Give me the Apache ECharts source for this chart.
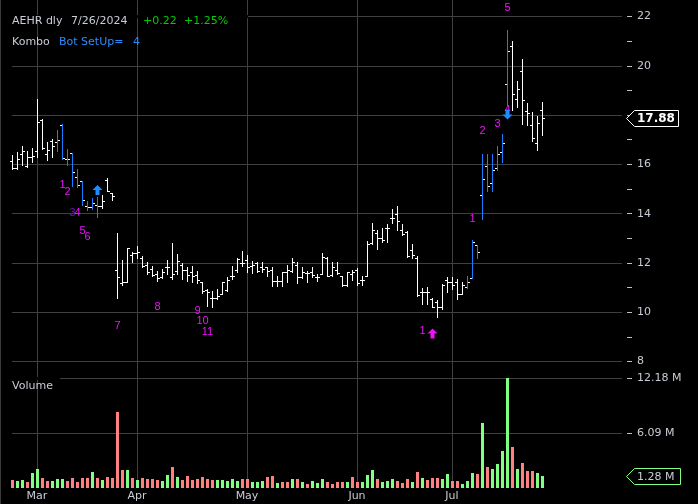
<!DOCTYPE html>
<html><head><meta charset="utf-8">
<script src="https://cdn.jsdelivr.net/npm/echarts@6/dist/echarts.min.js"></script>
<style>html,body{margin:0;padding:0;background:#000;}#c{width:698px;height:504px;}</style>
</head><body><div id="c"></div>
<script>
// ---------- DATA ----------
const febDays = [23,26,27,28,29];
const marDays = [1,4,5,6,7,8,11,12,13,14,15,18,19,20,21,22,25,26,27,28];
const aprDays = [1,2,3,4,5,8,9,10,11,12,15,16,17,18,19,22,23,24,25,26,29,30];
const mayDays = [1,2,3,6,7,8,9,10,13,14,15,16,17,20,21,22,23,24,28,29,30,31];
const junDays = [3,4,5,6,7,10,11,12,13,14,17,18,20,21,24,25,26,27,28];
const julDays = [1,2,3,5,8,9,10,11,12,15,16,17,18,19,22,23,24,25,26];

const opens = [16.10,15.84,16.42,15.90,16.28,16.54,17.77,16.40,16.92,16.89,
17.57,16.20,16.44,15.45,15.29,14.30,14.25,14.35,14.30,15.33,
14.80,11.68,11.15,11.20,12.30,12.38,12.20,11.90,11.75,11.55,
11.40,11.80,11.39,11.66,11.90,11.70,11.60,11.50,11.20,10.90,
10.55,10.55,10.72,10.90,11.45,11.70,11.96,12.10,11.86,11.99,
11.80,11.80,11.70,11.26,11.26,11.60,11.66,11.90,11.40,11.57,
11.60,11.40,11.53,12.20,11.50,11.70,11.45,11.10,11.55,11.70,
11.30,11.45,12.80,13.20,13.00,13.40,13.80,13.97,13.30,13.23,
12.50,12.20,10.80,10.80,10.52,10.40,10.19,11.30,11.20,11.20,
10.73,11.00,11.37,12.70,14.72,15.91,15.21,15.82,16.49,19.23,
20.78,18.62,19.77,18.14,17.58,16.86,18.18];
const highs = [16.34,16.47,16.74,16.51,16.65,18.65,17.82,16.89,17.01,17.39,
17.63,16.60,16.44,15.79,15.29,14.50,14.60,14.65,14.75,15.43,
14.80,13.19,12.10,12.60,12.42,12.65,12.27,12.00,11.86,11.66,
11.73,12.10,12.77,12.34,11.96,11.80,11.86,11.64,11.22,10.92,
10.85,10.92,11.22,11.39,11.86,12.18,12.47,12.30,12.07,12.00,
12.00,11.80,11.80,11.43,11.62,11.89,12.16,12.00,11.80,11.66,
11.80,11.53,12.40,12.24,12.00,12.00,11.46,11.60,11.70,11.78,
11.45,12.86,13.60,13.32,13.40,13.57,14.17,14.28,13.57,13.27,
12.76,12.26,10.97,11.00,10.57,10.49,11.14,11.40,11.40,11.34,
11.20,11.45,12.91,12.72,16.40,16.40,16.40,16.72,17.21,21.43,
20.99,19.36,20.25,18.45,18.09,17.94,18.50];
const lows = [15.80,15.80,15.97,15.88,16.07,16.28,16.60,16.15,16.27,16.51,
16.20,15.97,15.12,15.06,14.32,14.12,14.16,13.84,14.21,14.89,
14.55,10.54,11.10,11.19,12.00,12.16,11.80,11.55,11.43,11.26,
11.38,11.53,11.32,11.53,11.32,11.26,11.19,11.16,10.76,10.24,
10.18,10.50,10.72,10.85,11.32,11.60,11.86,11.60,11.57,11.60,
11.60,11.46,11.05,11.05,11.05,11.21,11.60,11.16,11.36,11.20,
11.39,11.26,11.53,11.43,11.46,11.53,11.05,11.05,11.27,11.10,
11.07,11.44,12.75,12.53,12.82,12.82,13.60,13.30,13.10,12.24,
12.20,10.62,10.32,10.32,10.19,9.78,10.10,10.80,10.94,10.53,
10.70,10.97,11.37,12.17,13.76,14.91,14.91,15.75,16.09,18.39,
18.18,18.32,17.62,17.58,16.94,16.56,17.17];
const closes = [15.83,16.18,16.51,16.28,16.32,17.69,16.65,16.55,16.72,16.95,
16.23,16.20,15.67,15.13,14.52,14.24,14.40,14.30,14.50,14.90,
14.70,11.39,11.20,12.58,12.38,12.42,11.86,11.60,11.49,11.35,
11.60,11.80,11.55,12.07,11.70,11.50,11.45,11.30,10.85,10.80,
10.56,10.62,11.19,11.30,11.45,12.14,11.97,11.82,11.90,11.64,
11.73,11.66,11.26,11.26,11.60,11.68,12.00,11.39,11.60,11.59,
11.50,11.40,12.24,11.43,11.80,11.59,11.10,11.60,11.60,11.16,
11.27,12.75,13.30,13.00,12.90,13.40,13.80,13.70,13.16,12.28,
12.30,10.66,10.80,10.80,10.20,10.20,11.10,11.20,11.10,10.73,
11.10,11.20,12.82,12.41,15.37,15.10,15.75,16.40,16.83,20.59,
18.82,19.02,18.59,18.08,17.03,17.66,17.88];
// volume in millions of shares
const volumes = [0.85,0.74,0.85,0.63,1.62,2.07,1.07,0.74,0.74,0.96,
0.96,0.74,1.07,0.63,1.07,1.07,1.73,1.07,0.85,1.18,
1.07,8.38,1.96,1.96,1.07,0.85,1.07,0.96,0.96,0.85,
0.74,1.40,2.29,1.18,0.85,1.29,0.85,0.96,1.18,0.96,
0.85,0.85,0.85,0.74,0.96,0.74,0.96,0.96,0.63,0.63,
0.74,1.18,1.29,0.52,0.63,0.63,0.96,0.96,0.63,0.41,
0.74,0.52,0.96,0.63,0.41,0.63,0.63,0.63,1.18,0.63,
0.63,1.40,1.96,0.96,0.63,0.74,0.96,0.74,0.52,0.96,
0.63,1.73,1.07,0.85,1.07,1.07,0.96,1.51,0.74,0.74,
0.41,0.74,1.62,1.51,7.16,2.29,2.07,2.62,4.06,12.18,
4.50,2.07,2.73,1.85,1.85,1.62,1.28];
// 1 = up day volume, 0 = down day volume
const volumeUp = [0,1,1,0,1,1,0,0,1,1,
1,0,0,0,0,0,1,0,1,0,
0,0,0,1,0,1,0,0,0,0,
1,1,0,1,0,0,0,0,0,0,
0,1,1,1,1,1,0,0,1,1,
1,0,0,1,0,0,1,0,1,0,
1,1,1,0,0,0,0,1,0,0,
1,1,1,0,1,1,1,0,0,0,
1,0,1,0,0,0,1,1,0,0,
1,1,1,0,1,0,1,1,1,1,
0,1,0,0,0,1,1];
// bars flagged by the setup study
const setupBars = [9,10,11,12,13,14,15,16,17,91,92,93,94,95,96,97,98,99];
// count labels: [bar index, price, text]
const countLabels = [
 [10,15.16,'1'],[11,14.88,'2'],[12,14.03,'3'],[13,14.03,'4'],[14,13.28,'5'],[15,13.05,'6'],
 [21,9.44,'7'],[29,10.21,'8'],[37,10.05,'9'],[38,9.64,'10'],[39,9.18,'11'],
 [82,9.24,'1'],
 [92,13.78,'1'],[94,17.34,'2'],[97,17.65,'3'],[98.7,18.2,'4'],[99,22.34,'5']
];
// arrows: [bar index, price, direction (1 up, -1 down)]
const setupArrows = [[17,14.96,1],[99,18.02,-1]];
const countArrows = [[84,9.14,1]];
const priceTicks = {min: 8, max: 24, step: 2};
const volumeTicks = {step: 6.09};
const monthNames = ['Jan','Feb','Mar','Apr','May','Jun','Jul','Aug','Sep','Oct','Nov','Dec'];

// ---------- BUILD ----------
const pad = n => (n < 10 ? '0' : '') + n;
const dates = [].concat(
  febDays.map(d => '2024-02-' + pad(d)), marDays.map(d => '2024-03-' + pad(d)),
  aprDays.map(d => '2024-04-' + pad(d)), mayDays.map(d => '2024-05-' + pad(d)),
  junDays.map(d => '2024-06-' + pad(d)), julDays.map(d => '2024-07-' + pad(d)));
const EXTRA = 16;
const cats = dates.concat(new Array(EXTRA).fill(''));
const monthOf = i => (dates[i] || '').slice(5, 7);
const isMonthStart = (idx) => idx > 0 && idx < dates.length && monthOf(idx) !== monthOf(idx - 1);

const BLUE = '#1a7cff', WHITE = '#ffffff', GRID = '#404040', TXT = '#c8ccd4';
const MAG = '#f010ff', GREEN = '#80ff80', RED = '#ff8080';
const FONT = '"DejaVu Sans", sans-serif';
const setupSet = new Set(setupBars);
const STEP = 5;
const left = 12, width = STEP * (cats.length - 1);
const pxPerUnit = 24.643, y22 = 16.5;
const priceTop = y22 - (priceTicks.max - 22) * pxPerUnit;
const priceH = (priceTicks.max - priceTicks.min) * pxPerUnit;
const volBottom = 487.8, volPx = 54.8;
const volTop = priceTop + priceH;
const volMax = volumeTicks.step * (volBottom - volTop) / volPx;
const volTickVals = [volumeTicks.step, volumeTicks.step * 2];

const ohlc = dates.map((d, i) => [i, opens[i], highs[i], lows[i], closes[i]]);
const vol = dates.map((d, i) => [i, volumes[i]]);

function arrowShape(cx, cy, dir) {
  // dir 1 = pointing up, -1 = pointing down
  const pts = [[0,-5],[5,0],[2,0],[2,5],[-2,5],[-2,0],[-5,0]];
  return pts.map(p => [cx + p[0], cy + p[1] * dir]);
}

const chart = echarts.init(document.getElementById('c'), null, {renderer: 'canvas'});
const option = {
  backgroundColor: '#000',
  animation: false,
  grid: [
    {left: left, width: width, top: priceTop, height: priceH, outerBoundsMode: 'none', containLabel: false},
    {left: left, width: width, top: volTop, height: volBottom - volTop, outerBoundsMode: 'none', containLabel: false}
  ],
  xAxis: [
    {gridIndex: 0, type: 'category', data: cats, boundaryGap: false,
     axisLine: {show: false}, axisTick: {show: false}, axisLabel: {show: false},
     splitLine: {show: true, interval: isMonthStart, lineStyle: {color: GRID, width: 1}}},
    {gridIndex: 1, type: 'category', data: cats, boundaryGap: false,
     axisLine: {show: false}, axisTick: {show: false},
     axisLabel: {show: true, interval: isMonthStart, color: TXT, fontSize: 11, fontFamily: FONT, margin: 3,
       formatter: (v) => v ? monthNames[parseInt(v.slice(5, 7), 10) - 1] : ''},
     splitLine: {show: true, interval: isMonthStart, lineStyle: {color: GRID, width: 1}}}
  ],
  yAxis: [
    {gridIndex: 0, type: 'value', position: 'right', offset: 5,
     min: priceTicks.min, max: priceTicks.max, interval: priceTicks.step,
     axisLine: {show: false},
     axisTick: {show: true, length: 5, lineStyle: {color: '#c0c0c0'}},
     minorTick: {show: true, splitNumber: 2, length: 5, lineStyle: {color: '#c0c0c0'}},
     axisLabel: {color: TXT, fontSize: 11, fontFamily: FONT, margin: 10},
     splitLine: {show: true, lineStyle: {color: GRID, width: 1}}},
    {gridIndex: 1, type: 'value', position: 'right', offset: 5,
     min: 0, max: volMax, interval: volumeTicks.step,
     axisLine: {show: false},
     axisTick: {show: true, length: 5, lineStyle: {color: '#c0c0c0'}, customValues: volTickVals},
     axisLabel: {color: TXT, fontSize: 11, fontFamily: FONT, margin: 10,
       customValues: volTickVals,
       formatter: v => (+v).toFixed(2) + ' M'},
     splitLine: {show: true, lineStyle: {color: GRID, width: 1}}}
  ],
  series: [
    {type: 'custom', xAxisIndex: 0, yAxisIndex: 0, data: ohlc, encode: {x: 0, y: [1, 2, 3, 4]}, z: 5,
     renderItem: (params, api) => {
       const i = api.value(0);
       const pO = api.coord([i, api.value(1)]);
       const pH = api.coord([i, api.value(2)]);
       const pL = api.coord([i, api.value(3)]);
       const pC = api.coord([i, api.value(4)]);
       const x = Math.round(pO[0]);
       const yH = Math.floor(pH[1]), yL = Math.floor(pL[1]);
       const yO = Math.floor(pO[1]), yC = Math.floor(pC[1]);
       const col = setupSet.has(i) ? BLUE : WHITE;
       return {type: 'group', children: [
         {type: 'rect', shape: {x: x, y: yH, width: 1, height: Math.max(1, yL - yH + 1)}, style: {fill: col}},
         {type: 'rect', shape: {x: x - 2, y: yO, width: 2, height: 1}, style: {fill: WHITE}},
         {type: 'rect', shape: {x: x + 1, y: yC, width: 2, height: 1}, style: {fill: WHITE}}
       ]};
     }},
    {type: 'custom', xAxisIndex: 1, yAxisIndex: 1, data: vol, encode: {x: 0, y: 1}, z: 5,
     renderItem: (params, api) => {
       const i = api.value(0);
       const top = api.coord([i, api.value(1)]);
       const base = api.coord([i, 0]);
       const x = Math.round(top[0]);
       const y0 = Math.round(top[1]), y1 = Math.round(base[1]);
       return {type: 'rect', shape: {x: x - 1, y: y0, width: 3, height: y1 - y0},
               style: {fill: volumeUp[i] ? GREEN : RED}};
     }},
    {type: 'custom', xAxisIndex: 0, yAxisIndex: 0, z: 6,
     data: countLabels.map(d => [d[0], d[1]]), encode: {x: 0, y: 1},
     renderItem: (params, api) => {
       const p = api.coord([api.value(0), api.value(1)]);
       const t = countLabels[params.dataIndex][2];
       const dim = (params.dataIndex === 2);
       return {type: 'text', x: Math.round(p[0]) + 0.5, y: p[1],
         style: {text: t, fill: dim ? '#6a18b0' : MAG, font: '11px "Liberation Sans", sans-serif',
                 align: 'center', verticalAlign: 'middle', textAlign: 'center', textVerticalAlign: 'middle'}};
     }},
    {type: 'custom', xAxisIndex: 0, yAxisIndex: 0, z: 7,
     data: setupArrows.map(d => [d[0], d[1]]), encode: {x: 0, y: 1},
     renderItem: (params, api) => {
       const p = api.coord([api.value(0), api.value(1)]);
       return {type: 'polygon', shape: {points: arrowShape(Math.round(p[0]) + 0.5, p[1], setupArrows[params.dataIndex][2])},
               style: {fill: '#1e8cff'}};
     }},
    {type: 'custom', xAxisIndex: 0, yAxisIndex: 0, z: 7,
     data: countArrows.map(d => [d[0], d[1]]), encode: {x: 0, y: 1},
     renderItem: (params, api) => {
       const p = api.coord([api.value(0), api.value(1)]);
       return {type: 'polygon', shape: {points: arrowShape(Math.round(p[0]) + 0.5, p[1], countArrows[params.dataIndex][2])},
               style: {fill: MAG}};
     }}
  ]
};
chart.setOption(option);

// ---------- overlays (labels / value tags) ----------
const lastClose = closes[closes.length - 1];
const prevClose = closes[closes.length - 2];
const lastVol = volumes[volumes.length - 1];
const yLast = Math.round(chart.convertToPixel({yAxisIndex: 0}, lastClose)) + 0.5;
const yVolLast = Math.round(chart.convertToPixel({yAxisIndex: 1}, lastVol)) + 0.5;
const yG22 = Math.floor(chart.convertToPixel({yAxisIndex: 0}, 22));
const yGVol = Math.floor(chart.convertToPixel({yAxisIndex: 1}, volumeTicks.step * 2));
const chg = lastClose - prevClose;
const pct = chg / prevClose * 100;

function txt(x, y, text, color, font) {
  return {type: 'text', x: x, y: y, z: 100,
    style: {text: text, fill: color, font: font || ('11px ' + FONT),
            verticalAlign: 'middle', textVerticalAlign: 'middle'}};
}
function tag(y, text, stroke, color, font, w) {
  return [
    {type: 'polygon', z: 100, shape: {points: [[626.5, y], [634.5, y - 8], [634.5 + w, y - 8], [634.5 + w, y + 8], [634.5, y + 8]]},
     style: {fill: '#000', stroke: stroke, lineWidth: 1}},
    txt(637, y + 0.5, text, color, font)
  ];
}
chart.setOption({graphic: [].concat(
  [{type: 'rect', z: 50, shape: {x: 0, y: yG22 - 1, width: 248, height: 3}, style: {fill: '#000'}},
   {type: 'rect', z: 50, shape: {x: 0, y: yGVol - 1, width: 60, height: 3}, style: {fill: '#000'}},
   {type: 'line', z: 50, shape: {x1: 0.5, y1: 0, x2: 0.5, y2: 504}, style: {stroke: '#3a3a3a', lineWidth: 1}}],
  txt(12, 21, 'AEHR dly', TXT), txt(71, 21, '7/26/2024', TXT),
  txt(143, 21, (chg >= 0 ? '+' : '') + chg.toFixed(2), '#00cc00'),
  txt(184, 21, (pct >= 0 ? '+' : '') + pct.toFixed(2) + '%', '#00cc00'),
  txt(12, 42, 'Kombo', TXT), txt(59, 42, 'Bot SetUp=', '#2a8cff'), txt(133, 42, '4', '#2a8cff'),
  txt(12, 386, 'Volume', TXT),
  tag(yLast, lastClose.toFixed(2), '#ffffff', '#ffffff', 'bold 12px ' + FONT, 44),
  tag(yVolLast, lastVol.toFixed(2) + ' M', '#80ff80', TXT, '11px ' + FONT, 46)
)});
</script></body></html>
